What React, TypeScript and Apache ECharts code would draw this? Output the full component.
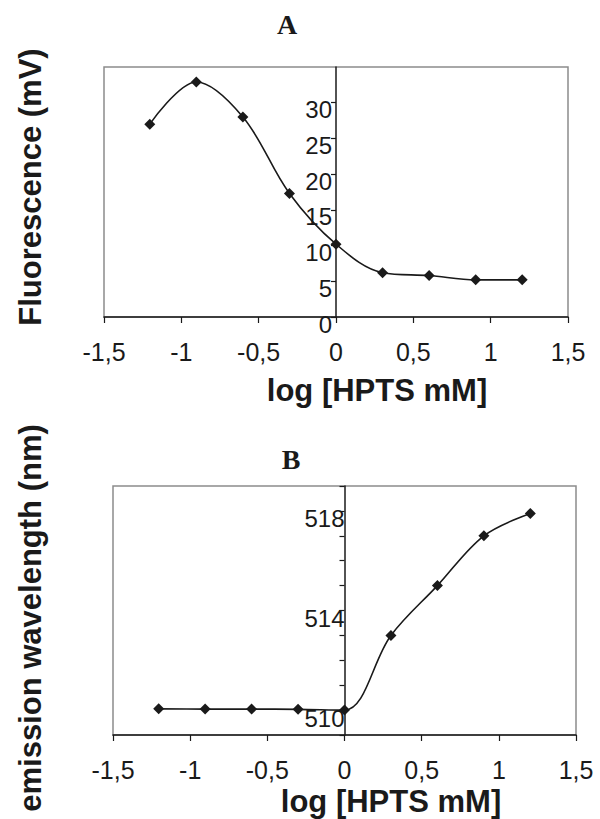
import React, { useEffect, useRef } from "react";
import * as echarts from "echarts";

const logConc = [-1.204, -0.903, -0.602, -0.301, 0, 0.301, 0.602, 0.903, 1.204];
const fluorescence = [27.0, 32.9, 28.0, 17.3, 10.2, 6.2, 5.8, 5.2, 5.2];
const wavelength = [510.05, 510.04, 510.04, 510.03, 510.0, 513.0, 515.0, 517.0, 517.9];
const xTicks = { min: -1.5, max: 1.5, interval: 0.5 };
const yTicksA = { min: 0, max: 35, interval: 5 };
const yTicksB = { min: 509, max: 519, interval: 1, labelled: [510, 514, 518] };

const SANS = "'Liberation Sans', Arial, sans-serif";
const SERIF = "'Liberation Serif', 'Times New Roman', serif";
const INK = "#1a1a1a";

const fmt = (v: number) => String(v).replace(".", ",");

export default function App() {
  const ref = useRef<HTMLDivElement>(null);
  useEffect(() => {
    if (!ref.current) return;
    const chart = echarts.init(ref.current, undefined, { renderer: "svg" });
    const xAxisBase = {
      type: "value",
      min: xTicks.min,
      max: xTicks.max,
      interval: xTicks.interval,
      splitLine: { show: false },
      axisLine: { onZero: false, lineStyle: { color: INK, width: 1.5 } },
      axisTick: { show: true, length: 6, lineStyle: { color: INK, width: 1.2 } },
      axisLabel: {
        formatter: fmt,
        fontFamily: SANS,
        fontSize: 25,
        color: INK,
        margin: 22,
        showMinLabel: true,
        showMaxLabel: true,
      },
    };
    const yLabelRich = { d: { fontFamily: SANS, fontSize: 24, color: INK, padding: [14, 0, 0, 0] } };
    const seriesBase = {
      type: "line",
      smooth: 0.35,
      symbol: "diamond",
      symbolSize: 11,
      lineStyle: { color: INK, width: 1.6 },
      itemStyle: { color: INK },
    };
    chart.setOption({
      animation: false,
      backgroundColor: "#ffffff",
      grid: [
        { left: 104, right: 32, top: 67, height: 250, show: true, borderColor: "#8c8c8c", borderWidth: 1.5, backgroundColor: "transparent" },
        { left: 113, right: 24, top: 486, height: 249, show: true, borderColor: "#8c8c8c", borderWidth: 1.5, backgroundColor: "transparent" },
      ],
      xAxis: [
        { ...xAxisBase, gridIndex: 0 },
        { ...xAxisBase, gridIndex: 1 },
      ],
      yAxis: [
        {
          type: "value",
          gridIndex: 0,
          position: "left",
          offset: -232,
          min: yTicksA.min,
          max: yTicksA.max,
          interval: yTicksA.interval,
          splitLine: { show: false },
          axisLine: { show: true, onZero: false, lineStyle: { color: INK, width: 1.5 } },
          axisTick: { show: true, length: 5, lineStyle: { color: INK, width: 1.2 } },
          axisLabel: {
            margin: 4,
            showMaxLabel: false,
            formatter: (v: number) => `{d|${v}}`,
            rich: yLabelRich,
          },
        },
        {
          type: "value",
          gridIndex: 1,
          position: "left",
          offset: -231.5,
          min: yTicksB.min,
          max: yTicksB.max,
          interval: yTicksB.interval,
          splitLine: { show: false },
          axisLine: { show: true, onZero: false, lineStyle: { color: INK, width: 1.5 } },
          axisTick: { show: true, length: 5, lineStyle: { color: INK, width: 1.2 } },
          axisLabel: {
            margin: 0,
            formatter: (v: number) => (yTicksB.labelled.includes(Math.round(v)) ? `{d|${Math.round(v)}}` : ""),
            rich: { d: { fontFamily: SANS, fontSize: 24, color: INK, padding: [16, 0, 0, 0] } },
          },
        },
      ],
      series: [
        { ...seriesBase, xAxisIndex: 0, yAxisIndex: 0, data: logConc.map((x, i) => [x, fluorescence[i]]) },
        { ...seriesBase, xAxisIndex: 1, yAxisIndex: 1, data: logConc.map((x, i) => [x, wavelength[i]]) },
      ],
      graphic: [
        { type: "text", x: 287, y: 24, style: { text: "A", font: `bold 28px ${SERIF}`, fill: INK, align: "center", verticalAlign: "middle" } },
        { type: "text", x: 291, y: 459, style: { text: "B", font: `bold 28px ${SERIF}`, fill: INK, align: "center", verticalAlign: "middle" } },
        { type: "text", x: 377, y: 390, style: { text: "log [HPTS mM]", font: `bold 31px ${SANS}`, fill: INK, align: "center", verticalAlign: "middle" } },
        { type: "text", x: 391, y: 801, style: { text: "log [HPTS mM]", font: `bold 31px ${SANS}`, fill: INK, align: "center", verticalAlign: "middle" } },
        { type: "text", x: 30, y: 187, rotation: Math.PI / 2, style: { text: "Fluorescence (mV)", font: `bold 31px ${SANS}`, fill: INK, align: "center", verticalAlign: "middle" } },
        { type: "text", x: 30, y: 618, rotation: Math.PI / 2, style: { text: "emission wavelength (nm)", font: `bold 31px ${SANS}`, fill: INK, align: "center", verticalAlign: "middle" } },
      ],
    });
    return () => chart.dispose();
  }, []);
  return <div ref={ref} style={{ width: 600, height: 819, position: "absolute", left: 0, top: 0 }} />;
}
